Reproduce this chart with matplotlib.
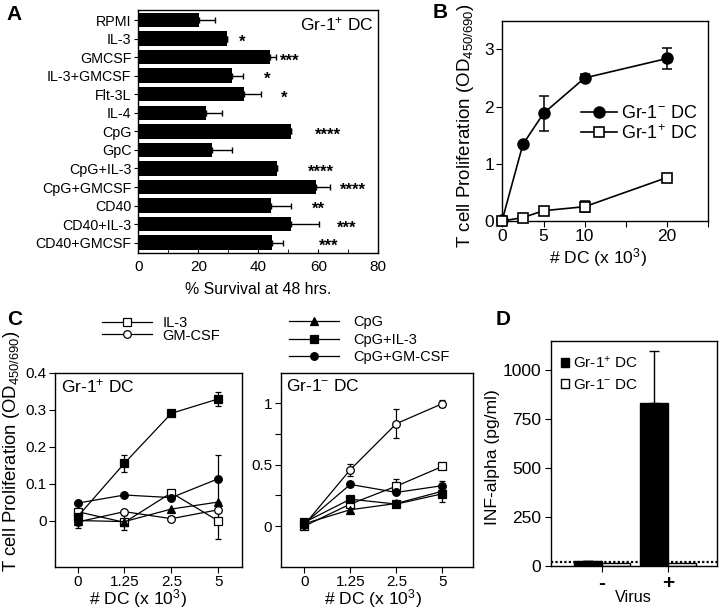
import numpy as np
import matplotlib.pyplot as plt

plt.rcParams['font.family'] = ['Liberation Sans', 'DejaVu Sans']
plt.rcParams['mathtext.fontset'] = 'custom'
plt.rcParams['mathtext.rm'] = 'Liberation Sans'
plt.rcParams['mathtext.it'] = 'Liberation Sans:italic'
plt.rcParams['mathtext.bf'] = 'Liberation Sans:bold'
plt.rcParams['axes.linewidth'] = 1.0

# ---- panel A: survival of Gr-1+ DC
treatments = ['RPMI', 'IL-3', 'GMCSF', 'IL-3+GMCSF', 'Flt-3L', 'IL-4', 'CpG', 'GpC',
              'CpG+IL-3', 'CpG+GMCSF', 'CD40', 'CD40+IL-3', 'CD40+GMCSF']
survival = [20.3, 29.4, 43.9, 31.1, 35.3, 22.6, 50.9, 24.4, 46.1, 59.2, 44.1, 50.9, 44.4]
survival_err = [5.3, 0, 2.0, 3.7, 5.5, 5.2, 0, 6.7, 0, 4.7, 6.8, 9.4, 3.9]
stars = ['', '*', '***', '*', '*', '', '****', '', '****', '****', '**', '***', '***']
star_x = [0, 34.5, 50.6, 42.8, 48.6, 0, 63.3, 0, 60.8, 71.5, 60, 69.5, 63.3]

# ---- panel B: T cell proliferation vs number of DC
dc_num = [0, 2.5, 5, 10, 20]
prolif_neg = [0.02, 1.34, 1.88, 2.50, 2.84]
prolif_neg_err = [0, 0, 0.31, 0.07, 0.18]
prolif_pos = [0.0, 0.06, 0.18, 0.25, 0.76]
prolif_pos_err = [0, 0, 0, 0.10, 0]

# ---- panel C: stimulated DC, categorical DC numbers
dc_labels = ['0', '1.25', '2.5', '5']
c_names = ['IL-3', 'GM-CSF', 'CpG', 'CpG+IL-3', 'CpG+GM-CSF']
c_pos = {  # Gr-1+ DC
    'IL-3': [0.024, -0.005, 0.075, -0.001],
    'GM-CSF': [-0.004, 0.024, 0.005, 0.029],
    'CpG': [0.0, -0.003, 0.031, 0.050],
    'CpG+IL-3': [0.010, 0.155, 0.290, 0.329],
    'CpG+GM-CSF': [0.047, 0.069, 0.062, 0.113],
}
c_pos_err = {
    'IL-3': [0, 0.02, 0.008, 0.05],
    'GM-CSF': [0.017, 0, 0.007, 0],
    'CpG': [0, 0, 0, 0],
    'CpG+IL-3': [0, 0.023, 0, 0.018],
    'CpG+GM-CSF': [0, 0, 0, 0.065],
}
c_neg = {  # Gr-1- DC
    'IL-3': [0.0, 0.18, 0.326, 0.487],
    'GM-CSF': [0.01, 0.46, 0.835, 0.998],
    'CpG': [0.02, 0.134, 0.185, 0.285],
    'CpG+IL-3': [0.03, 0.22, 0.18, 0.264],
    'CpG+GM-CSF': [0.02, 0.34, 0.275, 0.33],
}
c_neg_err = {
    'IL-3': [0, 0, 0.055, 0.01],
    'GM-CSF': [0, 0.05, 0.12, 0.03],
    'CpG': [0, 0, 0, 0],
    'CpG+IL-3': [0, 0, 0, 0.065],
    'CpG+GM-CSF': [0, 0, 0, 0.04],
}
c_style = {
    'IL-3': ('s', 'white'),
    'GM-CSF': ('o', 'white'),
    'CpG': ('^', 'black'),
    'CpG+IL-3': ('s', 'black'),
    'CpG+GM-CSF': ('o', 'black'),
}

# ---- panel D: IFN-alpha
virus = ['-', '+']
ifn_pos = [25, 830]
ifn_pos_err = [0, 265]
ifn_neg = [17, 17]
detect_limit = 19

W, H = 720, 610
fig = plt.figure(figsize=(7.2, 6.1), dpi=100)


def rect(l, t, r, b):
    return [l / W, 1 - b / H, (r - l) / W, (b - t) / H]


def ftext(x, y, s, **kw):
    fig.text(x / W, 1 - y / H, s, **kw)


# ================= A
axA = fig.add_axes(rect(138.3, 10, 378.3, 252.7))
ya = np.arange(len(treatments))
axA.barh(ya, survival, height=0.78, color='black',
         xerr=[np.zeros(len(ya)), survival_err],
         error_kw=dict(ecolor='black', elinewidth=1, capsize=2.5, capthick=1))
for yi, s, sx in zip(ya, stars, star_x):
    if s:
        axA.text(sx, yi + 0.2, s, ha='center', va='center', fontsize=12, fontweight='bold')
axA.set_yticks(ya, treatments, fontsize=10.3)
axA.set_ylim(len(ya) - 0.46, -0.54)
axA.set_xlim(0, 80)
axA.set_xticks(np.arange(0, 81, 20))
axA.set_xticks(np.arange(10, 80, 20), minor=True)
axA.tick_params(axis='x', which='both', direction='in', length=3, labelsize=11, pad=5)
axA.tick_params(axis='y', direction='out', length=3, pad=2)
axA.text(0.98, 0.94, 'Gr-1$^{+}$ DC', transform=axA.transAxes, ha='right', va='center', fontsize=12.5)
axA.set_xlabel('% Survival at 48 hrs.', fontsize=11.4, labelpad=6)

# ================= B
axB = fig.add_axes(rect(502.3, 20.7, 708.3, 221))
be = [i for i, e in enumerate(prolif_neg_err) if e > 0]
axB.errorbar([dc_num[i] for i in be], [prolif_neg[i] for i in be], yerr=[prolif_neg_err[i] for i in be],
             fmt='none', ecolor='black', elinewidth=1.1, capsize=3.5, capthick=1.1, clip_on=False)
be = [i for i, e in enumerate(prolif_pos_err) if e > 0]
axB.errorbar([dc_num[i] for i in be], [prolif_pos[i] for i in be], yerr=[prolif_pos_err[i] for i in be],
             fmt='none', ecolor='black', elinewidth=1.1, capsize=3.5, capthick=1.1, clip_on=False)
axB.plot(dc_num, prolif_neg, '-o', color='black', mfc='black', ms=8, lw=1.2, clip_on=False,
         zorder=3, label='Gr-1$^{-}$ DC')
axB.plot(dc_num, prolif_pos, '-s', color='black', mfc='white', ms=7.5, mew=1.2, lw=1.2, clip_on=False,
         zorder=3, label='Gr-1$^{+}$ DC')
axB.set_xlim(0, 25)
axB.set_ylim(0, 3.5)
axB.set_xticks([0, 5, 10, 15, 20, 25], ['0', '5', '10', '', '20', ''])
axB.set_yticks([0, 1, 2, 3])
axB.tick_params(direction='out', length=4, labelsize=12.5, pad=2)
axB.legend(loc='upper left', bbox_to_anchor=(581 / W, 1 - 105 / H), bbox_transform=fig.transFigure,
           frameon=False, fontsize=13, handlelength=2.0, handletextpad=0.2, labelspacing=0.1,
           borderpad=0, borderaxespad=0)
ftext(598, 258, '# DC (x 10$^3$)', ha='center', va='center', fontsize=12.6)
ftext(466, 126, 'T cell Proliferation (OD$_{450/690}$)', ha='center', va='center',
      rotation=90, fontsize=13.5)

# ================= C


def panel_c(ax, data, err, xlim, ylim, yticks, ylabels, tag, tag_x):
    xc = np.arange(len(dc_labels))
    for name in c_names:
        m, fc = c_style[name]
        ev = err[name]
        idx = [i for i, e in enumerate(ev) if e > 0]
        if idx:
            ax.errorbar(xc[idx], np.array(data[name])[idx], yerr=np.array(ev)[idx], fmt='none',
                        ecolor='black', elinewidth=0.9, capsize=2.5, capthick=0.9)
        ax.plot(xc, data[name], '-' + m, color='black', mfc=fc, mew=0.9, ms=5.5, lw=0.9,
                zorder=3, label=name)
    ax.set_xlim(*xlim)
    ax.set_ylim(*ylim)
    ax.set_xticks(xc, dc_labels)
    ax.set_yticks(yticks, ylabels)
    ax.tick_params(direction='out', length=4, labelsize=11, pad=2)
    ax.text(tag_x, 0.93, tag, transform=ax.transAxes, ha='left', va='center', fontsize=12.5)


axC1 = fig.add_axes(rect(55, 372.7, 241.7, 566.7))
panel_c(axC1, c_pos, c_pos_err, (-0.48, 3.5), (-0.125, 0.4),
        [0, 0.1, 0.2, 0.3, 0.4], ['0', '0.1', '0.2', '0.3', '0.4'], 'Gr-1$^{+}$ DC', 0.03)
axC2 = fig.add_axes(rect(280.7, 372.7, 473.3, 566.7))
panel_c(axC2, c_neg, c_neg_err, (-0.51, 3.67), (-0.33, 1.25),
        [0, 0.25, 0.5, 0.75, 1], ['0', '', '0.5', '', '1'], 'Gr-1$^{-}$ DC', 0.03)

h, l = axC1.get_legend_handles_labels()
fig.legend(h[:2], l[:2], loc='upper left', bbox_to_anchor=(102 / W, 1 - 316 / H),
           frameon=False, fontsize=10.5, handlelength=3.4, handletextpad=0.75,
           labelspacing=-0.1, borderpad=0, borderaxespad=0)
fig.legend(h[2:], l[2:], loc='upper left', bbox_to_anchor=(289 / W, 1 - 315 / H),
           frameon=False, fontsize=10.5, handlelength=3.4, handletextpad=1.0,
           labelspacing=0.25, borderpad=0, borderaxespad=0)
ftext(12, 451, 'T cell Proliferation (OD$_{450/690}$)', ha='center', va='center',
      rotation=90, fontsize=13.3)
ftext(138, 599, '# DC (x 10$^3$)', ha='center', va='center', fontsize=12.6)
ftext(373, 599, '# DC (x 10$^3$)', ha='center', va='center', fontsize=12.6)

# ================= D
axD = fig.add_axes(rect(551, 340.7, 717.3, 566))
xd = np.arange(len(virus))
bw = 0.42
axD.axhline(detect_limit, color='black', lw=1.6, ls=(0, (1, 1)), zorder=0)
axD.bar(xd - bw / 2, ifn_pos, bw, color='black', edgecolor='black', lw=1,
        yerr=[np.zeros(len(xd)), ifn_pos_err],
        error_kw=dict(ecolor='black', elinewidth=1, capsize=3.5, capthick=1),
        label='Gr-1$^{+}$ DC')
axD.bar(xd + bw / 2, ifn_neg, bw, color='white', edgecolor='black', lw=1,
        label='Gr-1$^{-}$ DC')
axD.set_xlim(-0.77, 1.74)
axD.set_ylim(0, 1150)
axD.set_yticks([0, 250, 500, 750, 1000])
axD.set_xticks(xd, virus, fontsize=15, fontweight='bold')
axD.tick_params(direction='out', length=4, labelsize=12.5, pad=3)
axD.tick_params(axis='x', labelsize=15, pad=2)
axD.legend(loc='upper left', bbox_to_anchor=(561 / W, 1 - 355 / H), bbox_transform=fig.transFigure,
           frameon=False, fontsize=11, handlelength=0.55, handleheight=0.55, handletextpad=0.25,
           labelspacing=0.45, borderpad=0, borderaxespad=0)
ftext(633, 597, 'Virus', ha='center', va='center', fontsize=11.6)
ftext(493, 457, 'INF-alpha (pg/ml)', ha='center', va='center', rotation=90, fontsize=12.6)

# panel letters
for x, y, s in [(14, 15, 'A'), (440, 12, 'B'), (15, 319, 'C'), (503, 319, 'D')]:
    ftext(x, y, s, ha='center', va='center', fontsize=15, fontweight='bold')

fig.savefig('out.png', dpi=100)
